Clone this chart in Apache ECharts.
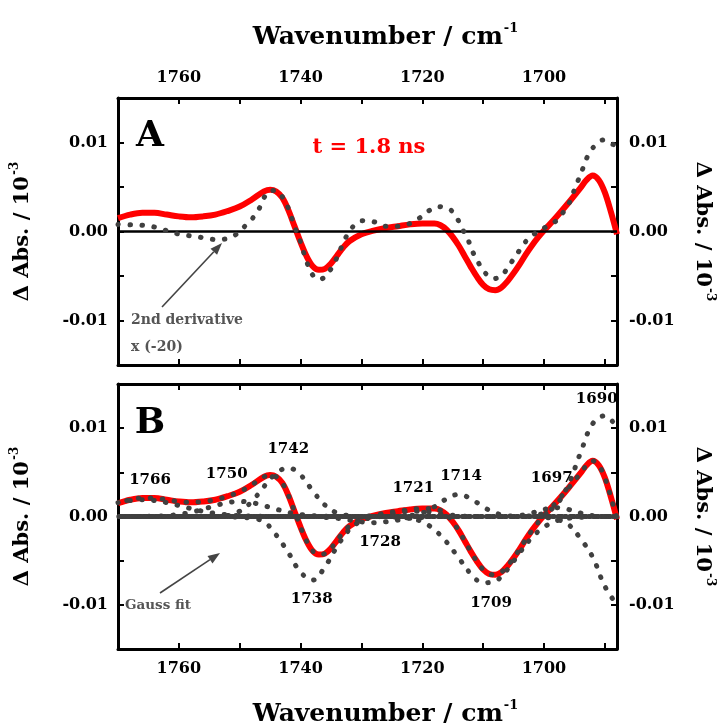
<!DOCTYPE html>
<html><head><meta charset="utf-8">
<script src="https://cdn.jsdelivr.net/npm/echarts@6/dist/echarts.min.js"></script>
<style>html,body{margin:0;padding:0;background:#fff}#c{width:724px;height:728px}</style>
</head><body><div id="c"></div>
<script>
// ---------- DATA ----------
// measured transient spectrum (red), panel A and B
const redX = [1770,1768,1766,1764,1762,1760,1758,1756,1754,1752,1750,1748,1746,1745,1744,1743,1742,1741,1740,1739,1738,1737,1736,1735,1734,1733,1732,1730,1728,1726,1724,1722,1720,1718,1717,1716,1715,1714,1713,1712,1711,1710,1709,1708,1707,1706,1705,1704,1703,1702,1701,1700,1698,1696,1694,1693,1692,1691,1690,1689,1688];
const redY = [0.0015,0.0019,0.0021,0.0021,0.0019,0.0017,0.0016,0.0017,0.0019,0.0023,0.0028,0.0036,0.0045,0.0047,0.0045,0.0038,0.0024,0.0006,-0.0012,-0.0028,-0.0039,-0.0043,-0.0042,-0.0036,-0.0027,-0.0018,-0.0011,-0.0003,0.0001,0.0004,0.0006,0.0008,0.0009,0.0009,0.0007,0.0002,-0.0006,-0.0016,-0.0028,-0.0040,-0.0051,-0.0060,-0.0065,-0.0066,-0.0063,-0.0056,-0.0047,-0.0037,-0.0026,-0.0016,-0.0007,0.0001,0.0016,0.0032,0.0049,0.0058,0.0063,0.0058,0.0044,0.0022,-0.0003];
// 2nd derivative x(-20), panel A (dotted)
const derivX = [1770,1768,1766,1764,1762,1760,1758,1756,1754,1752,1751,1750,1749,1748,1747,1746,1745,1744,1743,1742,1741,1740,1739,1738,1737,1736,1735,1734,1733,1732,1731,1730,1728,1726,1724,1722,1720.5,1719,1717.4,1715.5,1714.3,1713.5,1712.5,1711.7,1710.7,1709.6,1708.3,1707,1706,1705,1704,1702.7,1701.2,1699.6,1697.8,1696.7,1695.7,1695,1694.3,1693.6,1692.8,1691.7,1690.2,1688.7,1688];
const derivY = [0.0008,0.00075,0.0007,0.0005,0.0001,-0.0003,-0.0005,-0.0007,-0.0009,-0.0008,-0.0005,0.0000,0.0007,0.0014,0.0023,0.0038,0.0046,0.0046,0.0039,0.0026,0.0006,-0.0012,-0.0034,-0.0049,-0.0054,-0.0051,-0.0042,-0.0029,-0.0013,0.0000,0.0008,0.0012,0.0011,0.0006,0.0006,0.0009,0.0015,0.0023,0.0028,0.0025,0.0015,0.0004,-0.0009,-0.0023,-0.0036,-0.0047,-0.0053,-0.0050,-0.0041,-0.0031,-0.0021,-0.0009,-0.0001,0.00055,0.0013,0.0023,0.0034,0.0047,0.0059,0.0071,0.0085,0.0096,0.0103,0.0098,0.0096];
// Gauss components, panel B (dotted), on wavenumber grid compX
const compX = [1770,1768,1766,1764,1762,1760,1758,1756,1754,1752,1750,1748,1746,1744,1742,1740,1738,1736,1734,1732,1730,1728,1726,1724,1722,1720,1718,1716,1714,1712,1710,1708,1706,1704,1702,1700,1698,1696,1694,1692,1690,1688];
const g1766 = [0.00157,0.00181,0.0019,0.00181,0.00157,0.00124,0.00089,0.00058,0.00035,0.00019,0.00009,0.00004,0.00001,0,0,0,0,0,0,0,0,0,0,0,0,0,0,0,0,0,0,0,0,0,0,0,0,0,0,0,0,0];
const g1750 = [0,0,0.00001,0.00003,0.0001,0.00023,0.00047,0.00083,0.00123,0.00157,0.0017,0.00157,0.00123,0.00083,0.00047,0.00023,0.0001,0.00003,0.00001,0,0,0,0,0,0,0,0,0,0,0,0,0,0,0,0,0,0,0,0,0,0,0];
const g1742 = [0,0,0,0,0,0,0,0,0,0.0001,0.0006,0.0017,0.0034,0.0049,0.0055,0.0047,0.0029,0.0013,0.0004,0.0001,0,0,0,0,0,0,0,0,0,0,0,0,0,0,0,0,0,0,0,0,0,0];
const g1738 = [0,0,0,0,0,0,0,0,0,0,-0.0001,-0.0002,-0.0006,-0.0021,-0.0041,-0.0063,-0.0072,-0.0057,-0.0034,-0.0015,-0.0005,-0.0001,0,0,0,0,0,0,0,0,0,0,0,0,0,0,0,0,0,0,0,0];
const g1728 = [0,0,0,0,0,0,0,0,0,0,0,0,0,0,0,0,0,-0.0001,-0.0002,-0.0004,-0.0006,-0.0007,-0.0006,-0.0004,-0.0002,-0.0001,0,0,0,0,0,0,0,0,0,0,0,0,0,0,0,0];
const g1721 = [0,0,0,0,0,0,0,0,0,0,0,0,0,0,0,0,0,0,0,0,0,0.0001,0.0002,0.0004,0.0006,0.0006,0.0004,0.0002,0.0001,0,0,0,0,0,0,0,0,0,0,0,0,0];
const g1714 = [0,0,0,0,0,0,0,0,0,0,0,0,0,0,0,0,0,0,0,0,0,0,0,0,0.0001,0.0004,0.0011,0.0020,0.0025,0.0020,0.0011,0.0004,0.0001,0,0,0,0,0,0,0,0,0];
const g1709 = [0,0,0,0,0,0,0,0,0,0,0,0,0,0,0,0,0,0,0,0,0,0,0,-0.0001,-0.0002,-0.0006,-0.0015,-0.0029,-0.0047,-0.0065,-0.0075,-0.0073,-0.0060,-0.0041,-0.0024,-0.0012,-0.0005,-0.0002,-0.0001,0,0,0];
const g1697 = [0,0,0,0,0,0,0,0,0,0,0,0,0,0,0,0,0,0,0,0,0,0,0,0,0,0,0,0,0,0,0,0,0,0.0001,0.0004,0.0008,0.0010,0.0008,0.0004,0.0001,0,0];
const g1690 = [0,0,0,0,0,0,0,0,0,0,0,0,0,0,0,0,0,0,0,0,0,0,0,0,0,0,0,0,0,0,0,0,0,0,0.0001,0.0004,0.0013,0.0036,0.0072,0.0105,0.0114,0.0100];
const gEdge = [0,0,0,0,0,0,0,0,0,0,0,0,0,0,0,0,0,0,0,0,0,0,0,0,0,0,0,0,0,0,0,0,0,0,0,-0.0001,-0.0003,-0.0009,-0.0025,-0.0046,-0.0079,-0.0100];
const components = [g1766,g1750,g1742,g1738,g1728,g1721,g1714,g1709,g1697,g1690,gEdge];
// axis ticks / labels
const xTicks = [1690,1700,1710,1720,1730,1740,1750,1760];
const xLabels = [1700,1720,1740,1760];
const peakNames = ['1766','1750','1742','1738','1728','1721','1714','1709','1697','1690'];

// ---------- LAYOUT / STYLE ----------
const FONT = '"DejaVu Serif"';
const zip = (xs, ys) => xs.map((x, i) => [x, ys[i]]);
const gridA = {left:118, top:98, width:502, height:267};
const gridB = {left:118, top:384, width:502, height:266};
const axisLine = {show:true, onZero:false, lineStyle:{color:'#000', width:3}};
const tick = {show:true, inside:true, length:6, lineStyle:{color:'#000', width:2}};
const nameRich = (fs, sup, padL) => ({
  b:{fontFamily:FONT, fontWeight:'bold', fontSize:fs, color:'#000', lineHeight:fs+6, padding:[0,0,0,padL||0]},
  s:{fontFamily:FONT, fontWeight:'bold', fontSize:sup, color:'#000', verticalAlign:'top', lineHeight:fs+6, padding:[0,0,0,1]}
});
function xAxisCfg(gi, pos, labels, named, gap) {
  const o = {type:'value', gridIndex:gi, position:pos, min:1688, max:1770, inverse:true,
    axisLine, splitLine:{show:false},
    axisTick:Object.assign({customValues:xTicks}, tick),
    axisLabel:{show:labels, customValues:xLabels, margin:12, fontFamily:FONT, fontWeight:'bold', fontSize:16, color:'#000',
      formatter:v => String(Math.round(v))}};
  if (named) {
    o.name = '{b|Wavenumber / cm}{s|-1}';
    o.nameLocation = 'middle'; o.nameGap = gap;
    o.nameTextStyle = {rich:nameRich(25, 13, 36)};
  }
  return o;
}
function yAxisCfg(gi, pos) {
  const left = pos === 'left';
  return {type:'value', gridIndex:gi, position:pos, min:-0.015, max:0.015, interval:0.005,
    axisLine, splitLine:{show:false}, axisTick:tick,
    axisLabel:{margin:left?10:12, fontFamily:FONT, fontWeight:'bold', fontSize:16, color:'#000',
      formatter:v => Math.abs(v*100 - Math.round(v*100)) < 1e-6 ? (Math.abs(v)<1e-9 ? '0.00' : v.toFixed(2)) : ''},
    name:'{b|\u0394 Abs. / 10}{s|-3}', nameLocation:'middle', nameGap:left?82:72, nameRotate:left?90:-90,
    nameTextStyle:{rich:nameRich(21, 12)}};
}
const dot = (off) => ({color:'#404040', width:5, type:[0.5, 11.5], cap:'round', dashOffset:off});
const series = [];
[0, 2].forEach(ai => series.push({type:'line', xAxisIndex:ai, yAxisIndex:ai, data:[], z:1, silent:true,
  markLine:{silent:true, symbol:'none', label:{show:false}, lineStyle:{color:'#000', width:2.5, type:'solid'}, data:[{yAxis:0}]}}));
[0, 2].forEach(ai => series.push({type:'line', xAxisIndex:ai, yAxisIndex:ai, data:zip(redX, redY), smooth:0.35,
  symbol:'none', z:3, lineStyle:{color:'#ff0000', width:6}}));
series.push({type:'line', xAxisIndex:0, yAxisIndex:0, data:zip(derivX, derivY), smooth:0.35, symbol:'none', z:5, lineStyle:dot(0)});
series.push({type:'line', xAxisIndex:2, yAxisIndex:2, data:zip(redX, redY), smooth:0.35, symbol:'none', z:5, lineStyle:dot(3)});
components.forEach((c, i) => series.push({type:'line', xAxisIndex:2, yAxisIndex:2, data:zip(compX, c), smooth:0.4,
  symbol:'none', z:5, lineStyle:dot((i*5) % 12)}));

const txt = (x, y, t, font, fill, align) => ({type:'text', x, y, z:100, silent:true,
  style:{text:t, font, fill:fill||'#000', align:align||'center', verticalAlign:'middle'}});
const arrow = (x1, y1, x2, y2) => {
  const dx = x2-x1, dy = y2-y1, L = Math.hypot(dx, dy), ux = dx/L, uy = dy/L, hl = 12, hw = 4.5;
  const bx = x2-ux*hl, by = y2-uy*hl;
  return [
    {type:'line', z:100, silent:true, shape:{x1, y1, x2:bx, y2:by}, style:{stroke:'#444', lineWidth:1.6}},
    {type:'polygon', z:100, silent:true, shape:{points:[[x2,y2],[bx-uy*hw, by+ux*hw],[bx+uy*hw, by-ux*hw]]}, style:{fill:'#444'}}
  ];
};
const peakPos = [[150,480],[226.7,474],[288.3,449],[311.7,599.3],[380,541.7],[413.3,488.3],[461,476],[491,603.3],[551.7,478.3],[596.7,399.3]];
const graphic = [
  txt(150, 137, 'A', 'bold 36px '+FONT),
  txt(150, 424, 'B', 'bold 36px '+FONT),
  txt(369, 148, 't = 1.8 ns', 'bold 21px '+FONT, '#ff0000'),
  txt(131, 320, '2nd derivative', 'bold 14px '+FONT, '#555', 'left'),
  txt(131, 347, 'x (-20)', 'bold 14px '+FONT, '#555', 'left'),
  txt(125, 605, 'Gauss fit', 'bold 13.5px '+FONT, '#555', 'left'),
  ...arrow(162, 307, 222, 243),
  ...arrow(160, 593, 220, 553),
  ...peakNames.map((n, i) => txt(peakPos[i][0], peakPos[i][1], n, 'bold 15px '+FONT))
];

const chart = echarts.init(document.getElementById('c'), null, {renderer:'canvas'});
chart.setOption({
  animation:false, backgroundColor:'#fff',
  grid:[gridA, gridB],
  xAxis:[xAxisCfg(0,'bottom',false,false), xAxisCfg(0,'top',true,true,45), xAxisCfg(1,'bottom',true,true,50), xAxisCfg(1,'top',false,false)],
  yAxis:[yAxisCfg(0,'left'), yAxisCfg(0,'right'), yAxisCfg(1,'left'), yAxisCfg(1,'right')],
  series, graphic
});
</script></body></html>
